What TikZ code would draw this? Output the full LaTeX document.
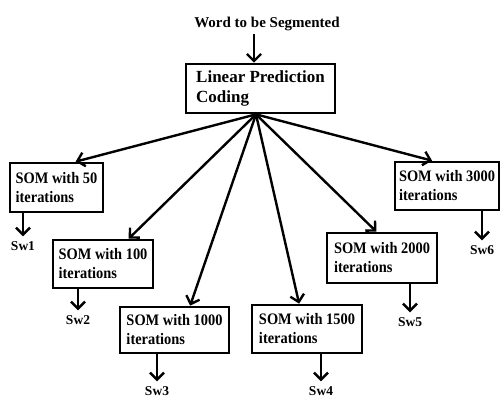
\documentclass[tikz,border=0pt]{standalone}
\usepackage{fontspec}
\setmainfont{Liberation Serif}
\newfontfamily\narrowserif[FakeStretch=0.9]{Liberation Serif}
\usetikzlibrary{arrows.meta,calc}

\begin{document}
\begin{tikzpicture}[x=1pt,y=-1pt,
  box/.style={draw, line width=2.7pt, align=left, inner sep=0pt},
  lpcbox/.style={box, font=\bfseries\fontsize{17}{20}\selectfont},
  sombox/.style={box, font=\narrowserif\bfseries\fontsize{16}{19}\selectfont},
  title/.style={inner sep=0pt, font=\bfseries\fontsize{15}{18}\selectfont},
  outlabel/.style={inner sep=0pt, font=\bfseries\fontsize{13.5}{15}\selectfont},
  arr/.style={line width=2.4pt, -{Straight Barb[length=7pt,width=14pt,line width=2.4pt]}},
  outarr/.style={arr, shorten >=5pt}]

\useasboundingbox (0,0) rectangle (501,399);

% input word and LPC stage
\node[title] (title) at (267,24) {Word to be Segmented};
\node[lpcbox, minimum width=149pt, minimum height=49pt] (lpc) at (260.5,88.5)
  {Linear Prediction\\Coding};

% SOM stages
\node[sombox, minimum width=93pt,  minimum height=49pt] (b1) at (56.5,187.5) {SOM with 50\\iterations};
\node[sombox, minimum width=100pt, minimum height=48pt] (b2) at (103,264)    {SOM with 100\\iterations};
\node[sombox, minimum width=109pt, minimum height=46pt] (b3) at (174.5,330)  {SOM with 1000\\iterations};
\node[sombox, minimum width=110pt, minimum height=48pt] (b4) at (307,329)    {SOM with 1500\\iterations};
\node[sombox, minimum width=110pt, minimum height=50pt] (b5) at (382,258)    {SOM with 2000\\iterations};
\node[sombox, minimum width=104pt, minimum height=48pt] (b6) at (447,186)    {SOM with 3000\\iterations};

% segment outputs
\node[outlabel] (sw1) at (23,246)  {Sw1};
\node[outlabel] (sw2) at (78,320)  {Sw2};
\node[outlabel] (sw3) at (157,391) {Sw3};
\node[outlabel] (sw4) at (321,391) {Sw4};
\node[outlabel] (sw5) at (410,322) {Sw5};
\node[outlabel] (sw6) at (482,250) {Sw6};

% input arrow
\coordinate (lpcin) at ($(lpc.north)+(-6.5,0)$);
\draw[arr, shorten <=3pt] (title.south -| lpcin) -- (lpcin);

% fan-out from the LPC stage
\coordinate (apex) at ($(lpc.south)+(-4.5,0)$);
\draw[arr] (apex) -- ($(b1.north west)!0.70!(b1.north east)$);
\draw[arr] (apex) -- ($(b2.north west)!0.75!(b2.north east)$);
\draw[arr] (apex) -- ($(b3.north west)!0.64!(b3.north east)$);
\draw[arr] (apex) -- ($(b4.north west)!0.43!(b4.north east)$);
\draw[arr] (apex) -- ($(b5.north west)!0.45!(b5.north east)$);
\draw[arr] (apex) -- ($(b6.north west)!0.36!(b6.north east)$);

% outputs of each SOM
\foreach \i in {1,...,6}
  \draw[outarr] (b\i.south -| sw\i.north) -- (sw\i.north);

\end{tikzpicture}
\end{document}
